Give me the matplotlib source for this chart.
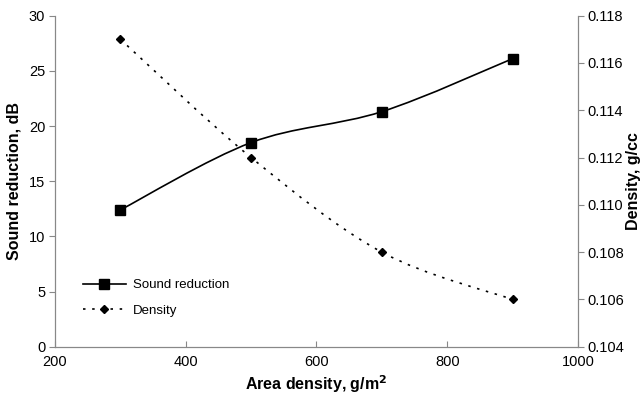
import matplotlib
matplotlib.use("Agg")
import matplotlib.pyplot as plt
import numpy as np
from matplotlib.path import Path
from matplotlib.patches import PathPatch
from matplotlib.lines import Line2D

plt.rcParams['font.family'] = ['Liberation Sans', 'DejaVu Sans']

area_density = [300, 500, 700, 900]
sound_reduction = [12.4, 18.5, 21.3, 26.1]
density = [0.117, 0.112, 0.108, 0.106]

def smooth_path(x, y):
    p = np.column_stack([x, y]).astype(float)
    n = len(p)
    verts = [p[0]]
    codes = [Path.MOVETO]
    for i in range(n - 1):
        p0 = p[i - 1] if i > 0 else p[i]
        p3 = p[i + 2] if i + 2 < n else p[i + 1]
        c1 = p[i] + (p[i + 1] - p0) / 6.0
        c2 = p[i + 1] - (p3 - p[i]) / 6.0
        verts += [c1, c2, p[i + 1]]
        codes += [Path.CURVE4] * 3
    return Path(verts, codes)

fig = plt.figure(figsize=(6.41, 4.0), dpi=100)
ax = fig.add_axes([0.0858, 0.133, 0.8159, 0.828])
ax2 = ax.twinx()

grey = '#888888'
ax.add_patch(PathPatch(smooth_path(area_density, sound_reduction), fill=False,
                       edgecolor='black', lw=1.2, zorder=3))
ax.plot(area_density, sound_reduction, ls='none', marker='s', ms=6.5,
        color='black', zorder=4)
ax2.add_patch(PathPatch(smooth_path(area_density, density), fill=False,
                        edgecolor='black', lw=1.2, linestyle=(0, (1.5, 4)), zorder=3))
ax2.plot(area_density, density, ls='none', marker='D', ms=4.5,
         color='black', zorder=4)

ax.set_xlim(200, 1000)
ax.set_ylim(0, 30)
ax2.set_ylim(0.104, 0.118)
ax.set_xticks([200, 400, 600, 800, 1000])
ax.set_yticks([0, 5, 10, 15, 20, 25, 30])
ax2.set_yticks(np.arange(0.104, 0.1181, 0.002))
ax2.set_yticklabels([f"{v:.3f}" for v in np.arange(0.104, 0.1181, 0.002)])

for a in (ax, ax2):
    for s in a.spines.values():
        s.set_color(grey)
        s.set_linewidth(0.8)
    a.spines['top'].set_visible(False)
ax.tick_params(axis='x', direction='in', length=4, color=grey, labelsize=10.5, pad=6)
ax.tick_params(axis='y', direction='out', length=4, color=grey, labelsize=10.5, pad=3)
ax2.tick_params(axis='y', direction='out', length=4, color=grey, labelsize=10.5, pad=3)

ax.set_xlabel('Area density, g/m$^{\\mathbf{2}}$', fontsize=11.5, fontweight='bold', labelpad=3)
ax.set_ylabel('Sound reduction, dB', fontsize=11.5, fontweight='bold', labelpad=5)
ax2.set_ylabel('Density, g/cc', fontsize=11.5, fontweight='bold', labelpad=1)

handles = [Line2D([], [], color='black', lw=1.2, marker='s', ms=6.5),
           Line2D([], [], color='black', lw=1.2, ls=(0, (1.5, 4)), marker='D', ms=4.5)]
ax.legend(handles, ['Sound reduction', 'Density'], loc='lower left',
          bbox_to_anchor=(0.03, 0.055), frameon=False, fontsize=9.5,
          handlelength=3.3, handletextpad=0.5, labelspacing=1.0)

fig.savefig('out.png', dpi=100)
